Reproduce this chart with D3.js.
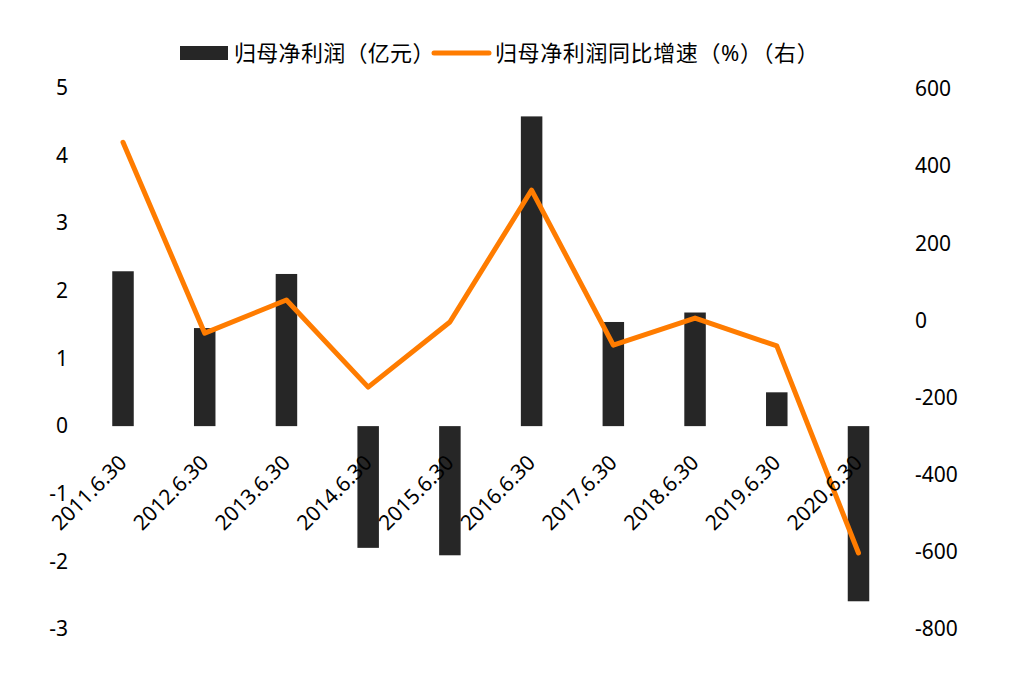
<!DOCTYPE html>
<html><head><meta charset="utf-8">
<script src="https://cdn.jsdelivr.net/npm/d3@7"></script>
<style>
html,body{margin:0;padding:0;background:#fff;}
text{font-family:"Noto Sans","Noto Sans CJK SC",sans-serif;fill:#000;}
</style></head>
<body>
<svg id="c" width="1010" height="696"></svg>
<script>
const categories = ["2011.6.30","2012.6.30","2013.6.30","2014.6.30","2015.6.30","2016.6.30","2017.6.30","2018.6.30","2019.6.30","2020.6.30"];
const profit = [2.29, 1.45, 2.25, -1.80, -1.91, 4.58, 1.54, 1.68, 0.50, -2.59];
const growth = [462, -33, 53, -173, -4, 338, -64, 6, -66, -603];
const leftTicks = [5,4,3,2,1,0,-1,-2,-3];
const rightTicks = [600,400,200,0,-200,-400,-600,-800];
const seriesNames = ["归母净利润（亿元）","归母净利润同比增速（%）（右）"];

const svg = d3.select("#c");
const fs = 21;
const x = d3.scalePoint().domain(categories).range([123, 858.5]);
const barW = 21.5;
const yL = d3.scaleLinear().domain([-3,5]).range([629,88]);
const yR = d3.scaleLinear().domain([-800,600]).range([629,89]);

// bars
svg.append("g").selectAll("rect").data(categories).join("rect")
  .attr("x", d => x(d) - barW/2)
  .attr("width", barW)
  .attr("y", (d,i) => yL(Math.max(0, profit[i])))
  .attr("height", (d,i) => Math.abs(yL(profit[i]) - yL(0)))
  .attr("fill", "#262626");

// line
const line = d3.line().x((d,i) => x(categories[i])).y(d => yR(d));
svg.append("path").datum(growth)
  .attr("d", line)
  .attr("fill","none")
  .attr("stroke","#FF7C00")
  .attr("stroke-width",5)
  .attr("stroke-linejoin","round")
  .attr("stroke-linecap","round");

const fmt = d => String(d);
// left axis
const axL = svg.append("g").attr("transform","translate(68,0)")
  .call(d3.axisLeft(yL).tickValues(leftTicks).tickSize(0).tickPadding(0).tickFormat(fmt));
axL.select(".domain").remove();
axL.selectAll("text").attr("font-size",fs).attr("font-family",'"Noto Sans",sans-serif').attr("fill","#000");

// right axis
const axR = svg.append("g").attr("transform","translate(915,0)")
  .call(d3.axisRight(yR).tickValues(rightTicks).tickSize(0).tickPadding(0).tickFormat(fmt));
axR.select(".domain").remove();
axR.selectAll("text").attr("font-size",fs).attr("font-family",'"Noto Sans",sans-serif').attr("fill","#000");

// x labels
svg.append("g").selectAll("text").data(categories).join("text")
  .attr("transform", d => `translate(${x(d)+5},${464}) rotate(-45)`)
  .attr("text-anchor","end")
  .attr("font-size",fs)
  .text(d => d);

// legend
const lfs = 22;
const lg = svg.append("g");
lg.append("rect").attr("x",180).attr("y",46).attr("width",48).attr("height",14).attr("fill","#262626");
lg.append("text").attr("x",234).attr("y",52).attr("dominant-baseline","central").attr("font-size",lfs)
  .attr("font-family",'"Noto Sans CJK SC",sans-serif').attr("letter-spacing",0.3).text(seriesNames[0]);
lg.append("line").attr("x1",434).attr("x2",489).attr("y1",53).attr("y2",53).attr("stroke","#FF7C00").attr("stroke-width",5).attr("stroke-linecap","round");
lg.append("text").attr("x",495).attr("y",52).attr("dominant-baseline","central").attr("font-size",lfs)
  .attr("font-family",'"Noto Sans CJK SC",sans-serif').attr("letter-spacing",0.6).text(seriesNames[1]);
</script>
</body></html>
